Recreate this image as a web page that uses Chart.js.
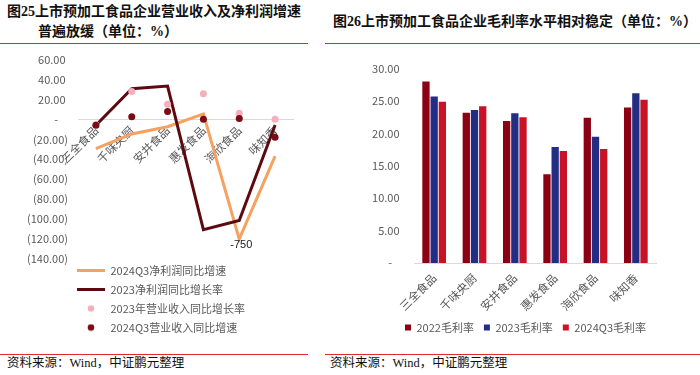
<!DOCTYPE html>
<html><head><meta charset="utf-8">
<script src="https://cdn.jsdelivr.net/npm/chart.js@4.4.1/dist/chart.umd.min.js"></script>
<style>
html,body{margin:0;padding:0;background:#fff;}
body{width:700px;height:375px;position:relative;overflow:hidden;font-family:"Liberation Serif","Noto Sans CJK SC",serif;}
.t{position:absolute;font-weight:bold;font-size:14px;color:#111;white-space:nowrap;line-height:1;}
.rule{position:absolute;height:1px;background:#E0282E;}
.src{position:absolute;font-size:12.5px;color:#111;white-space:nowrap;line-height:1;}
.cv{position:absolute;}
</style></head><body>
<div class="t" style="left:7px;top:5px">图25上市预加工食品企业营业收入及净利润增速</div>
<div class="t" style="left:38px;top:25px">普遍放缓（单位：%）</div>
<div class="t" style="left:333px;top:15px">图26上市预加工食品企业毛利率水平相对稳定（单位：%）</div>
<div class="rule" style="left:0;top:43px;width:308px"></div>
<div class="rule" style="left:325px;top:43px;width:375px"></div>
<div class="rule" style="left:0;top:354px;width:308px"></div>
<div class="rule" style="left:325px;top:354px;width:375px"></div>
<div class="src" style="left:7px;top:357px">资料来源：Wind，中证鹏元整理</div>
<div class="src" style="left:330px;top:357px">资料来源：Wind，中证鹏元整理</div>
<div class="cv" style="left:0;top:43px;width:310px;height:302px"><canvas id="c1"></canvas></div>
<div class="cv" style="left:325px;top:50px;width:375px;height:295px"><canvas id="c2"></canvas></div>
<script>
// ---- data ----
const categories = ['三全食品','千味央厨','安井食品','惠发食品','海欣食品','味知香'];
const profit2024Q3 = [-29.4, -14.6, -7.3, 5.5, -120, -36.8];
const profit2024Q3Labels = [null, null, null, null, '-750', null];
const profit2023 = [-5.8, 30.8, 33.5, -110.7, -101.4, -5.5];
const revenue2023 = [-5.0, 28.0, 15.3, 25.7, 6.3, 0.2];
const revenue2024Q3 = [-5.8, 2.8, 7.9, 0.2, 0.8, -18.0];

const gm2022 = [28.0, 23.2, 21.9, 13.7, 22.4, 24.0];
const gm2023 = [25.7, 23.6, 23.1, 17.9, 19.5, 26.2];
const gm2024Q3 = [24.9, 24.2, 22.5, 17.3, 17.6, 25.2];

const leftTicks = {min: -140, max: 60, step: 20};
const rightTicks = {min: 0, max: 30, step: 5};

// ---- helpers ----
Chart.defaults.font.family = '"Noto Sans CJK SC","Noto Sans",sans-serif';
Chart.defaults.color = '#595959';
const acct = v => v === 0 ? '-    ' : (v < 0 ? '(' + Math.abs(v).toFixed(2) + ')' : v.toFixed(2) + ' ');

function dotIcon(color) {
  const c = document.createElement('canvas');
  c.width = 28; c.height = 8;
  const g = c.getContext('2d');
  g.fillStyle = color;
  g.beginPath(); g.arc(14, 4, 3.3, 0, Math.PI * 2); g.fill();
  return c;
}

const legendShift = {
  id: 'legendShift',
  afterLayout(chart, args, opts) {
    const lg = chart.legend;
    if (!lg) return;
    lg.left += opts.dx || 0; lg.right += opts.dx || 0;
    lg.top += opts.dy || 0; lg.bottom += opts.dy || 0;
  }
};

const valueLabels = {
  id: 'valueLabels',
  afterDatasetsDraw(chart) {
    const meta = chart.getDatasetMeta(0);
    const ctx = chart.ctx;
    ctx.save();
    ctx.font = '11px "Liberation Sans","Noto Sans",sans-serif';
    ctx.fillStyle = '#1a1a1a';
    ctx.textAlign = 'center';
    ctx.textBaseline = 'top';
    profit2024Q3Labels.forEach((t, i) => {
      if (t) { const p = meta.data[i]; ctx.fillText(t, p.x + 2, p.y + 0); }
    });
    ctx.restore();
  }
};

// ---- left chart ----
const leftColors = ['#F5A160', '#5C0A10', '#F4AFBC', '#7A0C16'];
const leftIsLine = [true, true, false, false];
new Chart(document.getElementById('c1'), {
  type: 'line',
  data: {
    labels: categories,
    datasets: [
      {label: '2024Q3净利润同比增速', data: profit2024Q3, borderColor: leftColors[0], backgroundColor: leftColors[0],
       borderWidth: 3, pointRadius: 0, order: 3, borderJoinStyle: 'miter'},
      {label: '2023净利润同比增长率', data: profit2023, borderColor: leftColors[1], backgroundColor: leftColors[1],
       borderWidth: 3, pointRadius: 0, order: 2, borderJoinStyle: 'miter'},
      {label: '2023年营业收入同比增长率', data: revenue2023, showLine: false, pointRadius: 3.5,
       pointBackgroundColor: leftColors[2], pointBorderWidth: 0, backgroundColor: leftColors[2], borderColor: leftColors[2], order: 1},
      {label: '2024Q3营业收入同比增速', data: revenue2024Q3, showLine: false, pointRadius: 3.5,
       pointBackgroundColor: leftColors[3], pointBorderWidth: 0, backgroundColor: leftColors[3], borderColor: leftColors[3], order: 0}
    ]
  },
  options: {
    responsive: true, maintainAspectRatio: false, animation: false,
    layout: {padding: {top: 3, right: 17, left: 0, bottom: 0}},
    scales: {
      x: {
        position: {y: 0}, offset: true,
        grid: {display: false, drawTicks: false},
        border: {color: '#D9D9D9', width: 1},
        ticks: {minRotation: 45, maxRotation: 45, autoSkip: false, color: '#595959', font: {size: 11.5}, padding: 4}
      },
      y: {
        min: leftTicks.min, max: leftTicks.max,
        ticks: {stepSize: leftTicks.step, callback: v => acct(v), color: '#595959', font: {size: 11}, padding: 10},
        grid: {display: false, drawTicks: false}, border: {display: false},
        afterFit(s) { s.width = 78; }
      }
    },
    plugins: {
      legend: {
        position: 'bottom', align: 'start', fullSize: false,
        labels: {
          usePointStyle: true, pointStyleWidth: 28, boxHeight: 5, padding: 8,
          color: '#595959', font: {size: 11},
          generateLabels(chart) {
            return chart.data.datasets.map((ds, i) => ({
              text: ds.label, datasetIndex: i,
              fillStyle: leftColors[i], strokeStyle: leftColors[i],
              lineWidth: leftIsLine[i] ? 3 : 0,
              pointStyle: leftIsLine[i] ? 'line' : dotIcon(leftColors[i]),
              hidden: false, fontColor: '#595959'
            }));
          }
        }
      },
      legendShift: {dx: -9, dy: -2},
      tooltip: {enabled: false}
    }
  },
  plugins: [legendShift, valueLabels]
});

// ---- right chart ----
new Chart(document.getElementById('c2'), {
  type: 'bar',
  data: {
    labels: categories,
    datasets: [
      {label: '2022毛利率', data: gm2022, backgroundColor: '#8C0014'},
      {label: '2023毛利率', data: gm2023, backgroundColor: '#232D84'},
      {label: '2024Q3毛利率', data: gm2024Q3, backgroundColor: '#C81226'}
    ]
  },
  options: {
    responsive: true, maintainAspectRatio: false, animation: false,
    layout: {padding: {top: 15, right: 44, left: 0, bottom: 2}},
    datasets: {bar: {categoryPercentage: 0.61, barPercentage: 0.89}},
    scales: {
      x: {
        grid: {display: false, drawTicks: false},
        border: {color: '#D9D9D9', width: 1},
        ticks: {minRotation: 45, maxRotation: 45, autoSkip: false, color: '#595959', font: {size: 11.5}, padding: 8},
        afterFit(s) { s.height = 49; }
      },
      y: {
        min: rightTicks.min, max: rightTicks.max,
        ticks: {stepSize: rightTicks.step, callback: v => acct(v), color: '#595959', font: {size: 11}, padding: 12},
        grid: {display: false, drawTicks: false}, border: {display: false},
        afterFit(s) { s.width = 89; }
      }
    },
    plugins: {
      legend: {
        position: 'bottom', align: 'center',
        labels: {boxWidth: 6, boxHeight: 6, padding: 10, color: '#595959', font: {size: 11}}
      },
      legendShift: {dx: 35, dy: 0},
      tooltip: {enabled: false}
    }
  },
  plugins: [legendShift]
});
</script>
</body></html>
